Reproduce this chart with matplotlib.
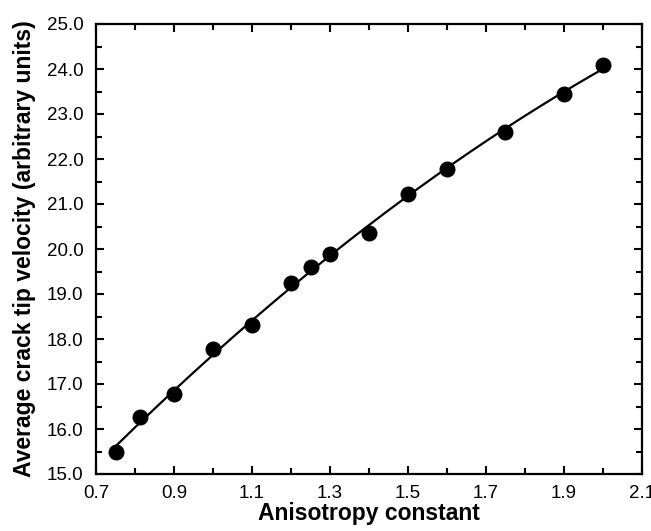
import numpy as np
import matplotlib
matplotlib.use("Agg")
import matplotlib.pyplot as plt
from matplotlib.ticker import MultipleLocator, FormatStrFormatter

plt.rcParams['font.family'] = ['Liberation Sans', 'DejaVu Sans']

anisotropy = [0.75, 0.8125, 0.9, 1.0, 1.1, 1.2, 1.25, 1.3, 1.4, 1.5, 1.6, 1.75, 1.9, 2.0]
velocity = [15.48, 16.27, 16.78, 17.77, 18.31, 19.25, 19.6, 19.9, 20.35, 21.23, 21.77, 22.61, 23.45, 24.1]

x_ticks = [0.7, 0.9, 1.1, 1.3, 1.5, 1.7, 1.9, 2.1]
y_ticks = [15.0, 16.0, 17.0, 18.0, 19.0, 20.0, 21.0, 22.0, 23.0, 24.0, 25.0]

fig = plt.figure(figsize=(6.51, 5.31), dpi=100)
ax = fig.add_axes([96/651, 1-474/531, (642-96)/651, (474-24)/531])

coef = np.polyfit(anisotropy, velocity, 2)
xf = np.linspace(min(anisotropy), max(anisotropy), 200)
ax.plot(xf, np.polyval(coef, xf), color='black', lw=1.6, zorder=2)
ax.plot(anisotropy, velocity, 'o', color='black', ms=10.5, zorder=3)

ax.set_xlim(0.7, 2.1)
ax.set_ylim(15.0, 25.0)
ax.set_xticks(x_ticks)
ax.set_yticks(y_ticks)
ax.xaxis.set_major_formatter(FormatStrFormatter('%.1f'))
ax.yaxis.set_major_formatter(FormatStrFormatter('%.1f'))
ax.xaxis.set_minor_locator(MultipleLocator(0.1))
ax.yaxis.set_minor_locator(MultipleLocator(0.5))
ax.tick_params(which='both', direction='in', top=True, right=True, width=1.5, labelsize=13.5, colors='black')
ax.tick_params(which='major', length=6)
ax.tick_params(axis='y', which='major', pad=9)
ax.tick_params(axis='x', which='major', pad=8)
ax.tick_params(which='minor', length=4)
for s in ax.spines.values():
    s.set_linewidth(1.6)

ax.set_xlabel('Anisotropy constant', fontsize=16.5, fontweight='bold', labelpad=0)
ax.set_ylabel('Average crack tip velocity (arbitrary units)', fontsize=16.5, fontweight='bold', labelpad=8)

fig.savefig('out.png', dpi=100)
